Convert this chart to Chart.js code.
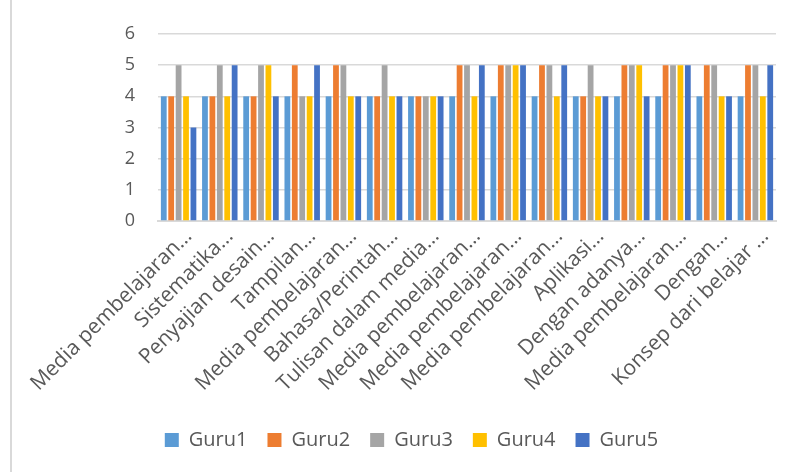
<!DOCTYPE html>
<html>
<head>
<meta charset="utf-8">
<script src="https://cdn.jsdelivr.net/npm/chart.js@4/dist/chart.umd.min.js"></script>
<style>
  html, body { margin: 0; padding: 0; background: #ffffff; }
  #frame { position: relative; width: 793px; height: 472px; overflow: hidden; }
  #frame::before {
    content: ""; position: absolute; left: 10px; top: 0; width: 2px; height: 472px;
    background: #d9d9d9;
  }
  canvas { position: absolute; left: 0; top: 0; }
</style>
</head>
<body>
<div id="frame"><canvas id="chart" width="793" height="472"></canvas></div>
<script>
// Indicator labels (shortened as shown on the axis)
const categories = [
  "Media pembelajaran…",
  "Sistematika…",
  "Penyajian desain…",
  "Tampilan…",
  "Media pembelajaran…",
  "Bahasa/Perintah…",
  "Tulisan dalam media…",
  "Media pembelajaran…",
  "Media pembelajaran…",
  "Media pembelajaran…",
  "Aplikasi…",
  "Dengan adanya…",
  "Media pembelajaran…",
  "Dengan…",
  "Konsep dari belajar …"
];

// Scores given by each teacher
const guru1 = [4, 4, 4, 4, 4, 4, 4, 4, 4, 4, 4, 4, 4, 4, 4];
const guru2 = [4, 4, 4, 5, 5, 4, 4, 5, 5, 5, 4, 5, 5, 5, 5];
const guru3 = [5, 5, 5, 4, 5, 5, 4, 5, 5, 5, 5, 5, 5, 5, 5];
const guru4 = [4, 4, 5, 4, 4, 4, 4, 4, 5, 4, 4, 5, 5, 4, 4];
const guru5 = [3, 5, 4, 5, 4, 4, 4, 5, 5, 5, 4, 4, 5, 4, 5];

const seriesNames = ["Guru1", "Guru2", "Guru3", "Guru4", "Guru5"];
const yTicks = [0, 1, 2, 3, 4, 5, 6];

const colors = ["#5B9BD5", "#ED7D31", "#A5A5A5", "#FFC000", "#4472C4"];
const textColor = "#595959";
const gridColor = "#d9d9d9";
const fontFamily = "'Open Sans', 'Liberation Sans', sans-serif";

const seriesData = [guru1, guru2, guru3, guru4, guru5];

new Chart(document.getElementById("chart"), {
  type: "bar",
  data: {
    labels: categories,
    datasets: seriesNames.map((name, i) => ({
      label: name,
      data: seriesData[i],
      backgroundColor: colors[i],
      borderWidth: 0,
      categoryPercentage: 0.9,
      barPercentage: 0.78
    }))
  },
  options: {
    responsive: false,
    animation: false,
    layout: { padding: { left: 30, right: 0, top: 34, bottom: 12 } },
    plugins: {
      tooltip: { enabled: false },
      legend: {
        position: "bottom",
        labels: {
          boxWidth: 14,
          boxHeight: 14,
          padding: 20,
          color: textColor,
          font: { family: fontFamily, size: 20 }
        }
      }
    },
    scales: {
      x: {
        grid: { display: false, drawTicks: false },
        border: { display: true, color: gridColor, width: 2 },
        ticks: {
          color: textColor,
          font: { family: fontFamily, size: 21 },
          minRotation: 45,
          maxRotation: 45,
          autoSkip: false,
          padding: 3,
          labelOffset: 10
        },
        // fixed band for the slanted labels and a small gap on the right
        afterFit: (scale) => {
          scale.height = 189;
          scale.paddingLeft = 0;
          scale.paddingRight = 17;
        }
      },
      y: {
        min: 0,
        max: 6,
        afterBuildTicks: (scale) => { scale.ticks = yTicks.map(v => ({ value: v })); },
        grid: { color: gridColor, lineWidth: 1.5, drawTicks: false },
        border: { display: false },
        ticks: {
          color: textColor,
          font: { family: fontFamily, size: 18 },
          padding: 23
        },
        afterFit: (scale) => {
          scale.width = 128;
          scale.paddingTop = 0;
        }
      }
    }
  }
});
</script>
</body>
</html>
